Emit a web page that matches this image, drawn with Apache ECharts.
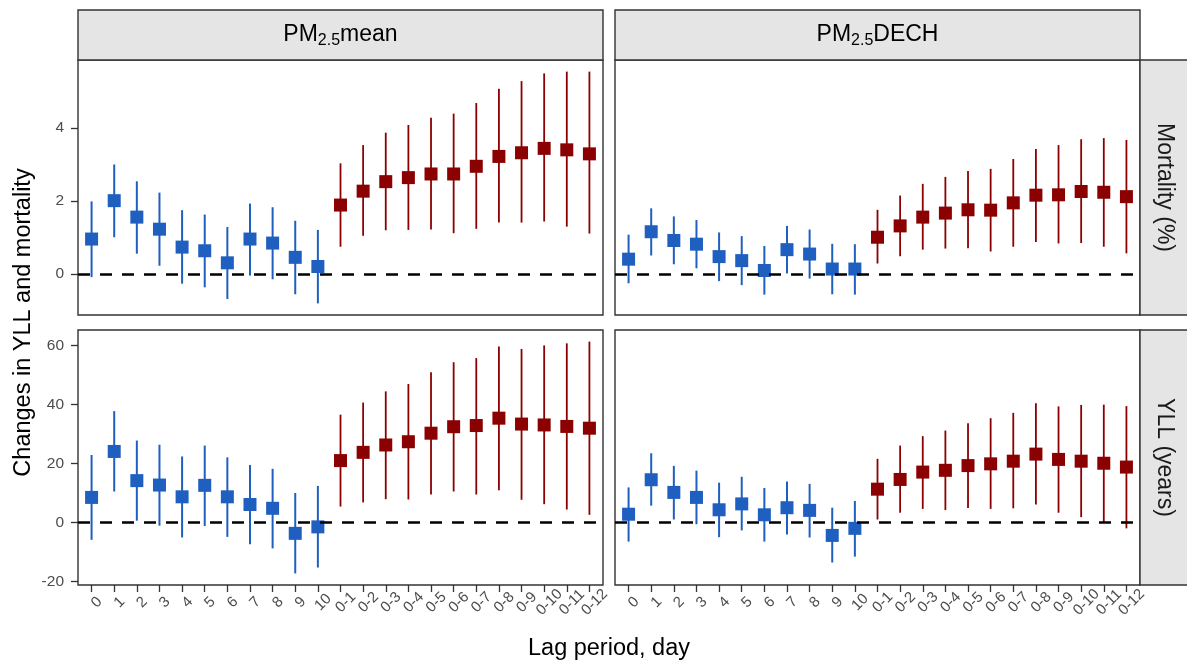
<!DOCTYPE html>
<html>
<head>
<meta charset="utf-8">
<script src="https://cdn.jsdelivr.net/npm/echarts@6/dist/echarts.min.js"></script>
<style>
  html, body { margin: 0; padding: 0; background: #fff; }
  #chart { width: 1187px; height: 663px; }
</style>
</head>
<body>
<div id="chart"></div>
<script>
// Lag labels: single-day lags 0..10, then cumulative moving averages 0-1..0-12
const lags = ['0','1','2','3','4','5','6','7','8','9','10',
  '0-1','0-2','0-3','0-4','0-5','0-6','0-7','0-8','0-9','0-10','0-11','0-12'];
const singleLagCount = 11;

// Mortality (%) — PM2.5 mean
const mortMeanEst = [0.96,2.01,1.56,1.23,0.74,0.64,0.31,0.96,0.85,0.46,0.21,
  1.89,2.27,2.53,2.64,2.74,2.74,2.95,3.22,3.32,3.44,3.40,3.29];
const mortMeanLo = [-0.08,1.01,0.56,0.23,-0.26,-0.36,-0.68,-0.04,-0.14,-0.55,-0.80,
  0.75,1.05,1.20,1.21,1.22,1.12,1.24,1.41,1.41,1.44,1.30,1.11];
const mortMeanHi = [1.99,3.00,2.54,2.23,1.75,1.63,1.29,1.93,1.83,1.46,1.21,
  3.03,3.53,3.87,4.08,4.28,4.39,4.68,5.07,5.28,5.49,5.54,5.54];

// Mortality (%) — PM2.5 DECH
const mortDechEst = [0.41,1.16,0.92,0.82,0.48,0.37,0.10,0.67,0.55,0.14,0.14,
  1.01,1.32,1.56,1.67,1.76,1.75,1.95,2.16,2.17,2.26,2.24,2.12];
const mortDechLo = [-0.25,0.51,0.27,0.16,-0.19,-0.30,-0.56,0.02,-0.12,-0.55,-0.56,
  0.29,0.49,0.67,0.70,0.71,0.62,0.75,0.88,0.84,0.85,0.75,0.57];
const mortDechHi = [1.08,1.80,1.58,1.48,1.14,1.04,0.77,1.32,1.22,0.83,0.82,
  1.76,2.15,2.47,2.66,2.82,2.88,3.15,3.42,3.53,3.69,3.72,3.67];

// YLL (years) — PM2.5 mean
const yllMeanEst = [8.5,24.1,14.2,12.7,8.7,12.6,8.7,6.1,4.8,-3.7,-1.5,
  21.0,23.8,26.3,27.4,30.3,32.5,32.9,35.4,33.4,33.1,32.6,32.0];
const yllMeanLo = [-5.9,10.5,0.6,-1.1,-5.1,-1.2,-4.9,-7.4,-8.8,-17.3,-15.3,
  5.4,6.8,7.9,7.8,9.5,10.5,9.5,10.9,7.7,6.2,4.4,2.6];
const yllMeanHi = [22.9,37.8,27.8,26.4,22.4,26.1,22.1,19.5,18.2,10.0,12.4,
  36.6,40.7,44.5,47.0,51.0,54.4,55.8,59.7,58.9,60.1,60.8,61.4];

// YLL (years) — PM2.5 DECH
const yllDechEst = [2.8,14.5,10.2,8.5,4.3,6.3,2.6,5.0,4.1,-4.4,-2.0,
  11.3,14.6,17.1,17.7,19.3,19.9,20.8,23.2,21.4,20.8,20.1,18.8];
const yllDechLo = [-6.5,5.7,1.0,-0.6,-5.0,-2.7,-6.5,-4.1,-5.1,-13.6,-11.6,
  1.0,3.3,4.6,4.2,4.9,4.6,4.8,6.1,3.3,1.8,0.1,-2.0];
const yllDechHi = [11.9,23.5,19.2,17.6,13.5,15.5,11.7,13.9,13.1,5.0,7.3,
  21.6,26.1,29.3,31.2,33.7,35.4,37.2,40.5,39.4,39.9,40.0,39.5];

// Tick labels
const mortTicks = [0, 2, 4];
const yllTicks = [-20, 0, 20, 40, 60];
const columnTitles = ['mean', 'DECH'];
const rowTitles = ['Mortality (%)', 'YLL (years)'];

const BLUE = '#1F5FBF';
const RED = '#8B0000';
const FONT = '"Liberation Sans", Arial, sans-serif';

const panels = [
  { row: 0, col: 0, est: mortMeanEst, lo: mortMeanLo, hi: mortMeanHi },
  { row: 0, col: 1, est: mortDechEst, lo: mortDechLo, hi: mortDechHi },
  { row: 1, col: 0, est: yllMeanEst, lo: yllMeanLo, hi: yllMeanHi },
  { row: 1, col: 1, est: yllDechEst, lo: yllDechLo, hi: yllDechHi }
];

// Shared y range per row with 5% padding
function rowRange(row) {
  const ps = panels.filter(p => p.row === row);
  const mn = Math.min(...ps.map(p => Math.min(...p.lo)));
  const mx = Math.max(...ps.map(p => Math.max(...p.hi)));
  const pad = (mx - mn) * 0.05;
  return [mn - pad, mx + pad];
}
const rowRanges = [rowRange(0), rowRange(1)];
const rowTicks = [mortTicks, yllTicks];

const colLeft = [78, 615];
const rowTop = [60, 330];
const PW = 525, PH = 255;

const grids = [], xAxes = [], yAxes = [], series = [];
const idx = lags.map((_, i) => i);

panels.forEach((p, k) => {
  grids.push({
    left: colLeft[p.col], top: rowTop[p.row], width: PW, height: PH,
    show: true, borderColor: '#333333', borderWidth: 1.4, backgroundColor: '#fff'
  });
  const bottomRow = p.row === 1;
  const leftCol = p.col === 0;
  xAxes.push({
    type: 'value', gridIndex: k, min: -0.6, max: lags.length - 1 + 0.6,
    position: 'bottom',
    axisLine: { show: false, onZero: false },
    splitLine: { show: false },
    axisTick: { show: bottomRow, length: 7, customValues: idx,
      lineStyle: { color: '#333333', width: 1.3 } },
    axisLabel: { show: bottomRow, customValues: idx, rotate: 45,
      align: 'center', verticalAlign: 'top', margin: 12,
      fontFamily: FONT, fontSize: 15, color: '#4D4D4D',
      formatter: v => lags[Math.round(v)] }
  });
  const r = rowRanges[p.row];
  yAxes.push({
    type: 'value', gridIndex: k, min: r[0], max: r[1],
    position: 'left',
    axisLine: { show: false, onZero: false },
    splitLine: { show: false },
    axisTick: { show: leftCol, length: 7, customValues: rowTicks[p.row],
      lineStyle: { color: '#333333', width: 1.3 } },
    axisLabel: { show: leftCol, customValues: rowTicks[p.row], margin: 14,
      fontFamily: FONT, fontSize: 15.5, color: '#4D4D4D' }
  });

  const groups = [
    { from: 0, to: singleLagCount, color: BLUE, width: 2 },
    { from: singleLagCount, to: lags.length, color: RED, width: 1.8 }
  ];
  groups.forEach(g => {
    const bars = [], pts = [];
    for (let i = g.from; i < g.to; i++) {
      bars.push([i, p.lo[i], p.hi[i]]);
      pts.push([i, p.est[i]]);
    }
    series.push({
      type: 'custom', xAxisIndex: k, yAxisIndex: k, z: 2, silent: true,
      data: bars,
      encode: { x: 0, y: [1, 2] },
      renderItem: (params, api) => {
        const a = api.coord([api.value(0), api.value(1)]);
        const b = api.coord([api.value(0), api.value(2)]);
        return {
          type: 'line',
          shape: { x1: a[0], y1: a[1], x2: b[0], y2: b[1] },
          style: { stroke: g.color, lineWidth: g.width }
        };
      }
    });
    series.push({
      type: 'scatter', xAxisIndex: k, yAxisIndex: k, z: 3, silent: true,
      symbol: 'rect', symbolSize: 13,
      itemStyle: { color: g.color, opacity: 1 },
      data: pts
    });
  });

  // Zero reference line
  series.push({
    type: 'line', xAxisIndex: k, yAxisIndex: k, z: 4, data: [], silent: true,
    markLine: {
      silent: true, symbol: ['none', 'none'], animation: false,
      label: { show: false },
      lineStyle: { color: '#000', type: [12, 10], width: 2.6 },
      data: [{ yAxis: 0 }]
    }
  });
});

// Facet strips and axis titles
const graphics = [];
columnTitles.forEach((t, c) => {
  graphics.push({
    type: 'rect', z: 10,
    shape: { x: colLeft[c], y: 10, width: PW, height: 50 },
    style: { fill: '#E5E5E5', stroke: '#333333', lineWidth: 1.4 }
  });
  graphics.push({
    type: 'text', z: 11, x: colLeft[c] + PW / 2, y: 35,
    style: {
      text: '{a|PM}{s|2.5}{a|' + t + '}',
      align: 'center', verticalAlign: 'middle',
      rich: {
        a: { fontFamily: FONT, fontSize: 23, color: '#1A1A1A', lineHeight: 28 },
        s: { fontFamily: FONT, fontSize: 16, color: '#1A1A1A', lineHeight: 16, verticalAlign: 'bottom' }
      }
    }
  });
});
rowTitles.forEach((t, r) => {
  graphics.push({
    type: 'rect', z: 10,
    shape: { x: colLeft[1] + PW, y: rowTop[r], width: 60, height: PH },
    style: { fill: '#E5E5E5', stroke: '#333333', lineWidth: 1.4 }
  });
  graphics.push({
    type: 'text', z: 11, x: colLeft[1] + PW + 24, y: rowTop[r] + PH / 2,
    rotation: -Math.PI / 2,
    style: {
      text: t, align: 'center', verticalAlign: 'middle',
      fontFamily: FONT, fontSize: 23, fill: '#1A1A1A'
    }
  });
});
graphics.push({
  type: 'text', z: 11, x: 24, y: (rowTop[0] + rowTop[1] + PH) / 2,
  rotation: Math.PI / 2,
  style: {
    text: 'Changes in YLL and mortality', align: 'center', verticalAlign: 'middle',
    fontFamily: FONT, fontSize: 23.5, fill: '#000'
  }
});
graphics.push({
  type: 'text', z: 11, x: (colLeft[0] + colLeft[1] + PW) / 2, y: 649,
  style: {
    text: 'Lag period, day', align: 'center', verticalAlign: 'middle',
    fontFamily: FONT, fontSize: 23.5, fill: '#000'
  }
});

const chart = echarts.init(document.getElementById('chart'), null, { renderer: 'canvas' });
chart.setOption({
  animation: false,
  backgroundColor: '#fff',
  grid: grids,
  xAxis: xAxes,
  yAxis: yAxes,
  series: series,
  graphic: graphics
});
</script>
</body>
</html>
